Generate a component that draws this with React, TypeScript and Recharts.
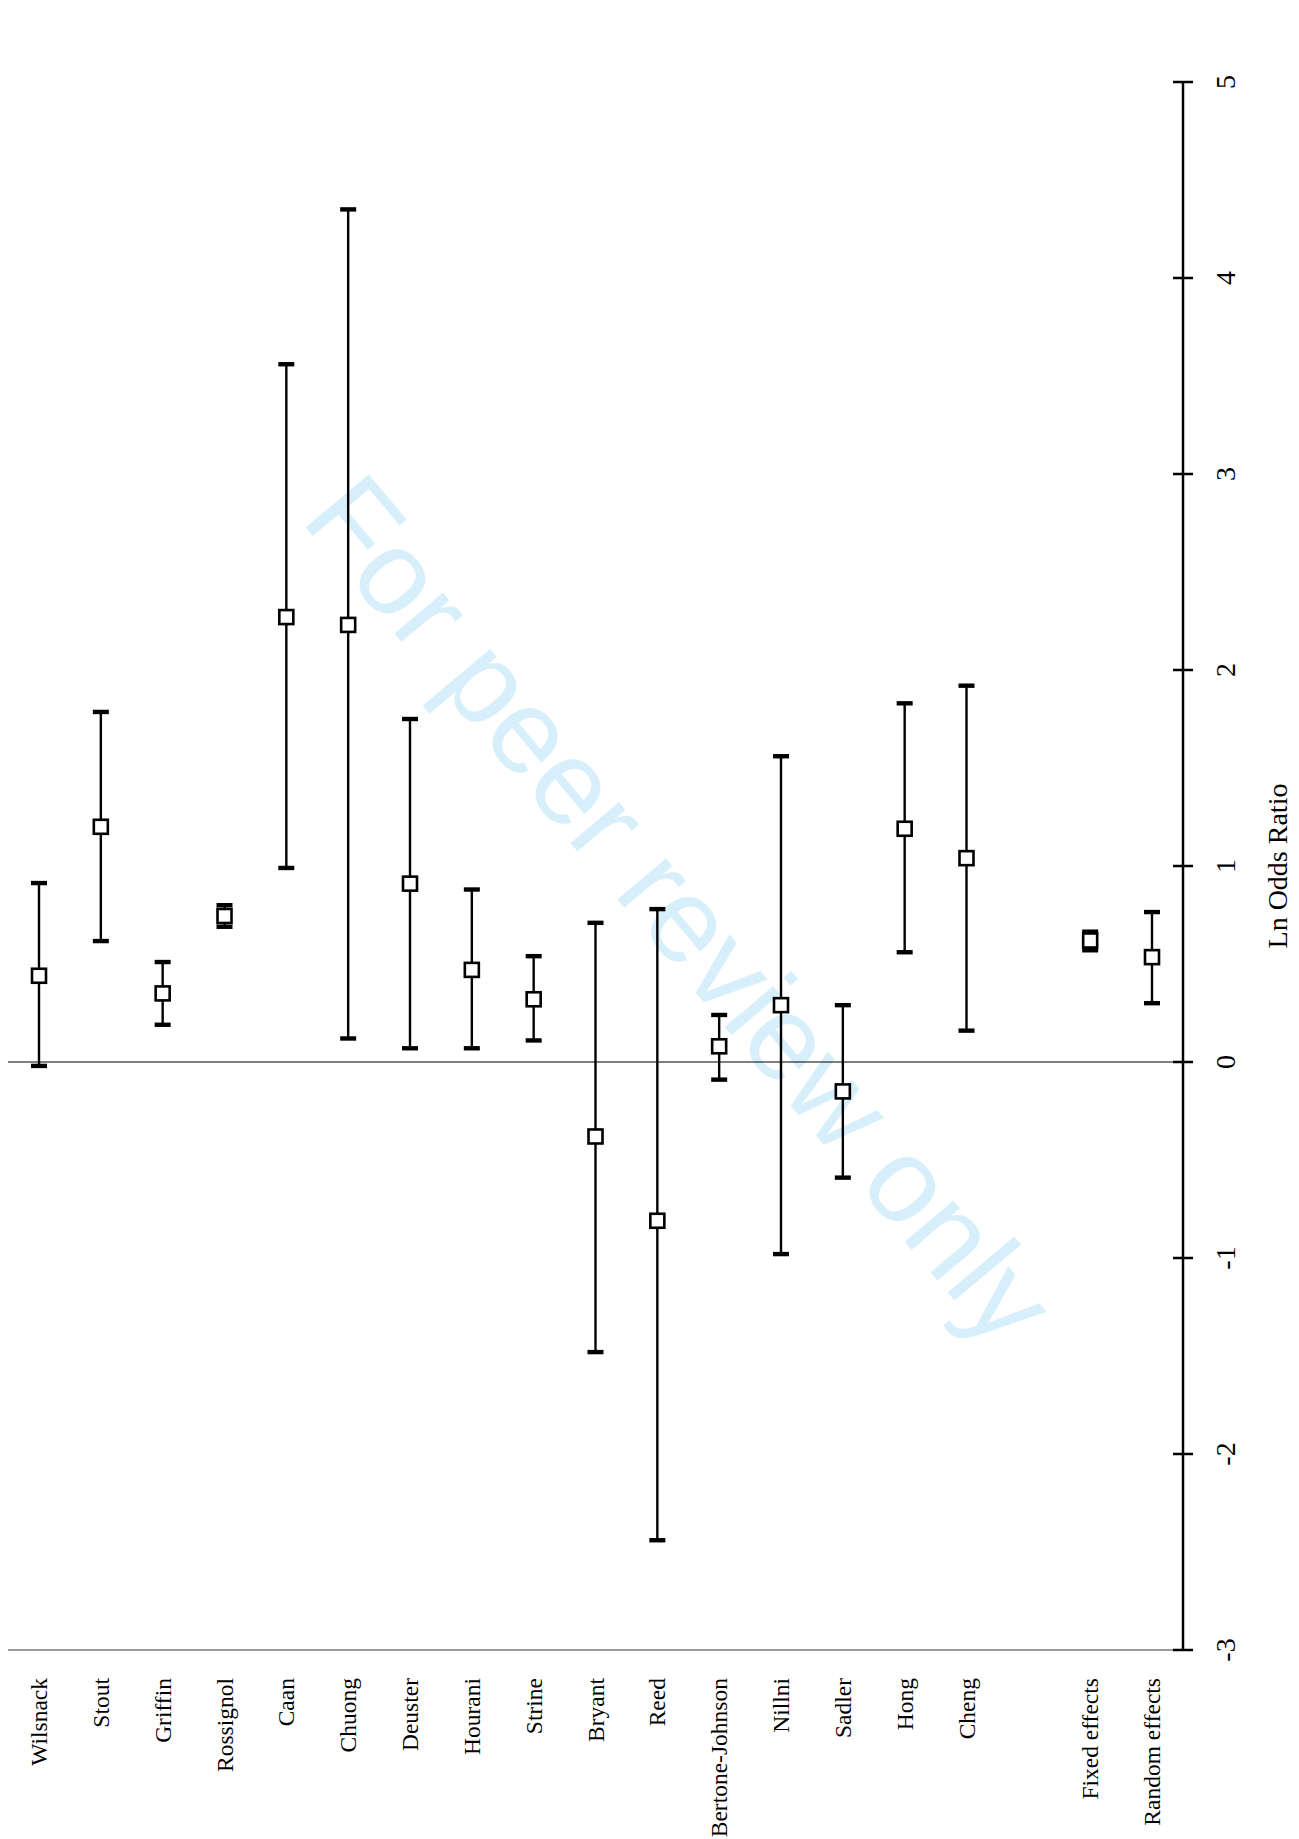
import React from "react";
import {
  ComposedChart,
  ErrorBar,
  ReferenceLine,
  Scatter,
  XAxis,
  YAxis,
} from "recharts";

const studies = [
  "Wilsnack",
  "Stout",
  "Griffin",
  "Rossignol",
  "Caan",
  "Chuong",
  "Deuster",
  "Hourani",
  "Strine",
  "Bryant",
  "Reed",
  "Bertone-Johnson",
  "Nillni",
  "Sadler",
  "Hong",
  "Cheng",
  "",
  "Fixed effects",
  "Random effects",
];

// point estimate and 95% CI, on the ln odds ratio scale
const lnOr = [0.44, 1.2, 0.35, 0.745, 2.27, 2.23, 0.91, 0.47, 0.32, -0.38, -0.81, 0.08, 0.29, -0.15, 1.19, 1.04, null, 0.62, 0.535];
const ciLow = [-0.02, 0.617, 0.19, 0.69, 0.99, 0.12, 0.07, 0.07, 0.11, -1.48, -2.44, -0.09, -0.98, -0.59, 0.56, 0.16, null, 0.57, 0.3];
const ciHigh = [0.913, 1.786, 0.51, 0.8, 3.56, 4.35, 1.75, 0.88, 0.54, 0.71, 0.78, 0.24, 1.56, 0.29, 1.83, 1.92, null, 0.665, 0.765];

const valueTicks = [-3, -2, -1, 0, 1, 2, 3, 4, 5];

const data = studies.map((name, i) => {
  const est = lnOr[i];
  const lo = ciLow[i];
  const hi = ciHigh[i];
  return {
    name,
    est,
    lo,
    hi,
    err: est == null ? null : [est - (lo as number), (hi as number) - est],
  };
});

const serif = "'Liberation Serif', 'Times New Roman', serif";

function StudyTick({ x, y, payload }: any) {
  const ty = y + 28;
  return (
    <text
      x={x}
      y={ty}
      transform={`rotate(-90 ${x} ${ty})`}
      textAnchor="end"
      dominantBaseline="central"
      fontSize={23.5}
      fontFamily={serif}
      fill="#000"
    >
      {payload.value}
    </text>
  );
}

function ValueTick({ x, y, payload }: any) {
  const tx = x + 42;
  return (
    <g>
      <line x1={x - 10} x2={x + 10} y1={y} y2={y} stroke="#000" strokeWidth={2.5} />
      <text
        x={tx}
        y={y}
        transform={`rotate(-90 ${tx} ${y})`}
        textAnchor="middle"
        dominantBaseline="central"
        fontSize={28}
        fontFamily={serif}
        fill="#000"
      >
        {payload.value}
      </text>
    </g>
  );
}

function AxisTitle({ viewBox }: any) {
  const tx = viewBox.x + 94;
  const ty = viewBox.y + viewBox.height / 2;
  return (
    <text
      x={tx}
      y={ty}
      transform={`rotate(-90 ${tx} ${ty})`}
      textAnchor="middle"
      dominantBaseline="central"
      fontSize={28}
      fontFamily={serif}
      fill="#000"
    >
      Ln Odds Ratio
    </text>
  );
}

const EstimateBox = ({ cx, cy }: any) =>
  cx == null || cy == null ? null : (
    <rect x={cx - 7} y={cy - 7} width={14} height={14} fill="#fff" stroke="#000" strokeWidth={2.6} />
  );

const CapMark = ({ cx, cy }: any) =>
  cx == null || cy == null ? null : (
    <rect x={cx - 8} y={cy - 2.2} width={16} height={4.4} fill="#000" />
  );

const NoMark = () => null;

export default function App() {
  return (
    <div style={{ position: "relative", width: 1291, height: 1831 }}>
      <svg
        width={1291}
        height={1831}
        style={{ position: "absolute", left: 0, top: 0, pointerEvents: "none" }}
      >
        <text
          x={665}
          y={908}
          transform="rotate(50 665 908)"
          textAnchor="middle"
          dominantBaseline="middle"
          fontSize={120}
          fontFamily="'Liberation Sans', Arial, sans-serif"
          fill="#d6effb"
        >
          For peer review only
        </text>
      </svg>
      <div style={{ position: "relative" }}>
        <ComposedChart
          width={1291}
          height={1831}
          data={data}
          margin={{ top: 74, right: 0, bottom: 0, left: 0 }}
        >
          <XAxis
            dataKey="name"
            type="category"
            interval={0}
            height={189}
            padding={{ left: 31, right: 31 }}
            tickLine={false}
            tickSize={0}
            tickMargin={0}
            axisLine={{ stroke: "#7a7a7a", strokeWidth: 1.5 }}
            tick={<StudyTick />}
          />
          <YAxis
            type="number"
            orientation="right"
            domain={[-3, 5]}
            ticks={valueTicks}
            width={116}
            tickLine={false}
            tickSize={0}
            tickMargin={0}
            axisLine={{ stroke: "#000", strokeWidth: 2.5 }}
            tick={<ValueTick />}
            label={<AxisTitle />}
          />
          <ReferenceLine y={0} stroke="#000" strokeWidth={1} />
          <Scatter dataKey="est" shape={<NoMark />} isAnimationActive={false}>
            <ErrorBar dataKey="err" direction="y" width={0} stroke="#000" strokeWidth={2.4} />
          </Scatter>
          <Scatter dataKey="lo" shape={<CapMark />} isAnimationActive={false} />
          <Scatter dataKey="hi" shape={<CapMark />} isAnimationActive={false} />
          <Scatter dataKey="est" shape={<EstimateBox />} isAnimationActive={false} />
        </ComposedChart>
      </div>
    </div>
  );
}
